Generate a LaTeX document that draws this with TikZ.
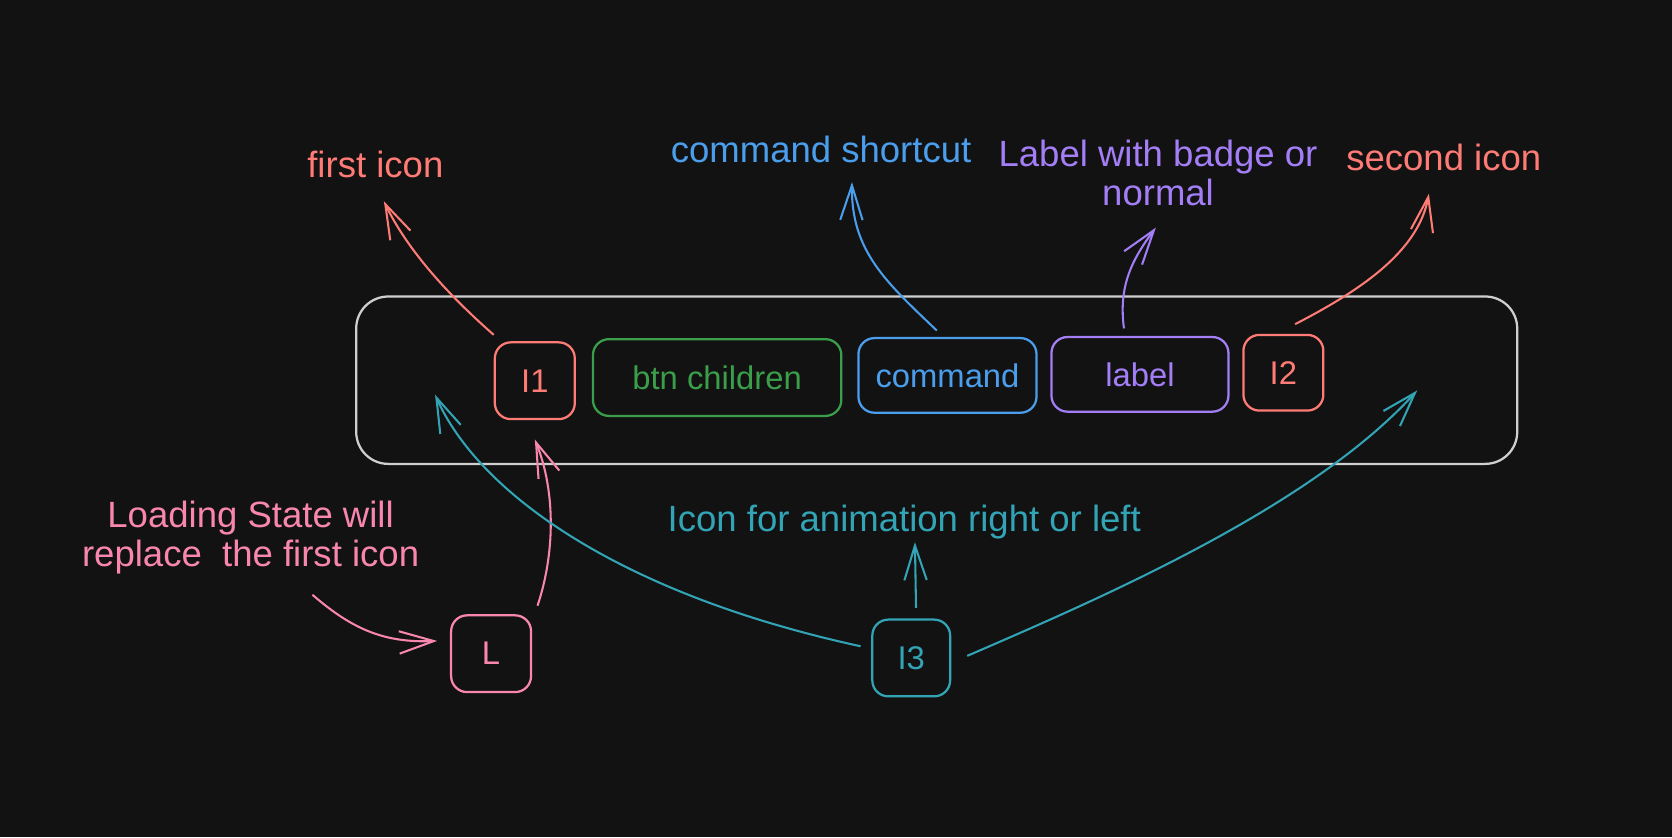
\documentclass[tikz,border=0pt]{standalone}
\usepackage{fontspec}
\setmainfont{Liberation Sans}
\usetikzlibrary{positioning,arrows.meta}
\definecolor{bgdark}{HTML}{121212}
\definecolor{outline}{HTML}{CFCFCF}
\definecolor{redicon}{HTML}{FF7B75}
\definecolor{greenbtn}{HTML}{3A9E4A}
\definecolor{bluecmd}{HTML}{4A9EEC}
\definecolor{purplelbl}{HTML}{A37EF7}
\definecolor{pinkload}{HTML}{F886AE}
\definecolor{tealanim}{HTML}{32A4B5}

\begin{document}
\begin{tikzpicture}[x=0.02cm, y=-0.02cm,
  rbox/.style={rectangle, draw, rounded corners=0.3cm, line width=1.2pt, anchor=north west, font=\fontsize{17.5}{21}\selectfont},
  txt/.style={inner sep=0pt, align=center, font=\fontsize{19.5}{21}\selectfont},
  arr/.style={line width=1.1pt, -{Straight Barb[length=0.65cm, width=0.42cm]}}]
\fill [bgdark] (0,0) rectangle (1568,785);
\useasboundingbox (0,0) rectangle (1568,785);

\node (rect) [rbox, draw=outline, rounded corners=0.6cm, minimum width=21.78cm, minimum height=3.14cm] at (333,277) {};

\node (rectI1) [rbox, draw=redicon, text=redicon, minimum width=1.5cm, minimum height=1.44cm] at (463,320) {I1};
\node (rectBtn) [rbox, draw=greenbtn, text=greenbtn, minimum width=4.66cm, minimum height=1.44cm] at (555,317) {btn children};
\node (rectCmd) [rbox, draw=bluecmd, text=bluecmd, minimum width=3.34cm, minimum height=1.4cm] at (804,316) {command};
\node (rectLabel) [rbox, draw=purplelbl, text=purplelbl, minimum width=3.32cm, minimum height=1.4cm] at (985,315) {label};
\node (rectI2) [rbox, draw=redicon, text=redicon, minimum width=1.5cm, minimum height=1.42cm] at (1165,313) {I2};
\node (rectL) [rbox, draw=pinkload, text=pinkload, minimum width=1.5cm, minimum height=1.44cm] at (422,576) {L};
\node (rectI3) [rbox, draw=tealanim, text=tealanim, minimum width=1.46cm, minimum height=1.44cm] at (817,580) {I3};

\node (txtFirst) [txt, text=redicon, anchor=base] at (352,166) {first icon};
\node (txtCmd) [txt, text=bluecmd, anchor=base] at (770,152) {command shortcut};
\node (txtBadge) [txt, text=purplelbl] at (1086,162) {Label with badge or\\normal};
\node (txtSecond) [txt, text=redicon, anchor=base] at (1354,160) {second icon};
\node (txtLoad) [txt, text=pinkload] at (235,504) {Loading State will\\replace\ \ the first icon};
\node (txtIcon) [txt, text=tealanim, anchor=base] at (848,498) {Icon for animation right or left};

\draw [arr, redicon] ([shift={(0,-6)}]rectI1.north west) .. controls +(-33,-29) and +(25,52) .. ([shift={(8,22)}]txtFirst.south);
\draw [arr, bluecmd] ([shift={(-10,-6)}]rectCmd.north) .. controls +(-47,-45) and +(-1,65) .. ([shift={(29,18)}]txtCmd.south);
\draw [arr, purplelbl] ([shift={(-15,-7)}]rectLabel.north) .. controls +(-5,-38) and +(-24,32) .. ([shift={(-2,20)}]txtBadge.south);
\draw [arr, redicon] ([shift={(11,-9)}]rectI2.north) .. controls +(62,-32) and +(-10,54) .. ([shift={(-14,21)}]txtSecond.south);
\draw [arr, pinkload] ([shift={(5,-8)}]rectL.north east) .. controls +(16,-48) and +(20,50) .. ([shift={(0,18)}]rectI1.south);
\draw [arr, pinkload] ([shift={(58,19)}]txtLoad.south) .. controls +(37,32) and +(-50,2) .. ([shift={(-12,-12)}]rectL.west);
\draw [arr, tealanim] ([shift={(4.5,-10)}]rectI3.north) -- ([shift={(10,3)}]txtIcon.south);
\draw [arr, tealanim] ([shift={(-10,-11)}]rectI3.west) .. controls +(-230,-50) and +(40,90) .. ([shift={(-55,-24)}]rectI1.south west);
\draw [arr, tealanim] ([shift={(15,-2)}]rectI3.east) .. controls +(125,-54) and +(-100,110) .. ([shift={(87,-20)}]rectI2.south east);
\end{tikzpicture}
\end{document}
